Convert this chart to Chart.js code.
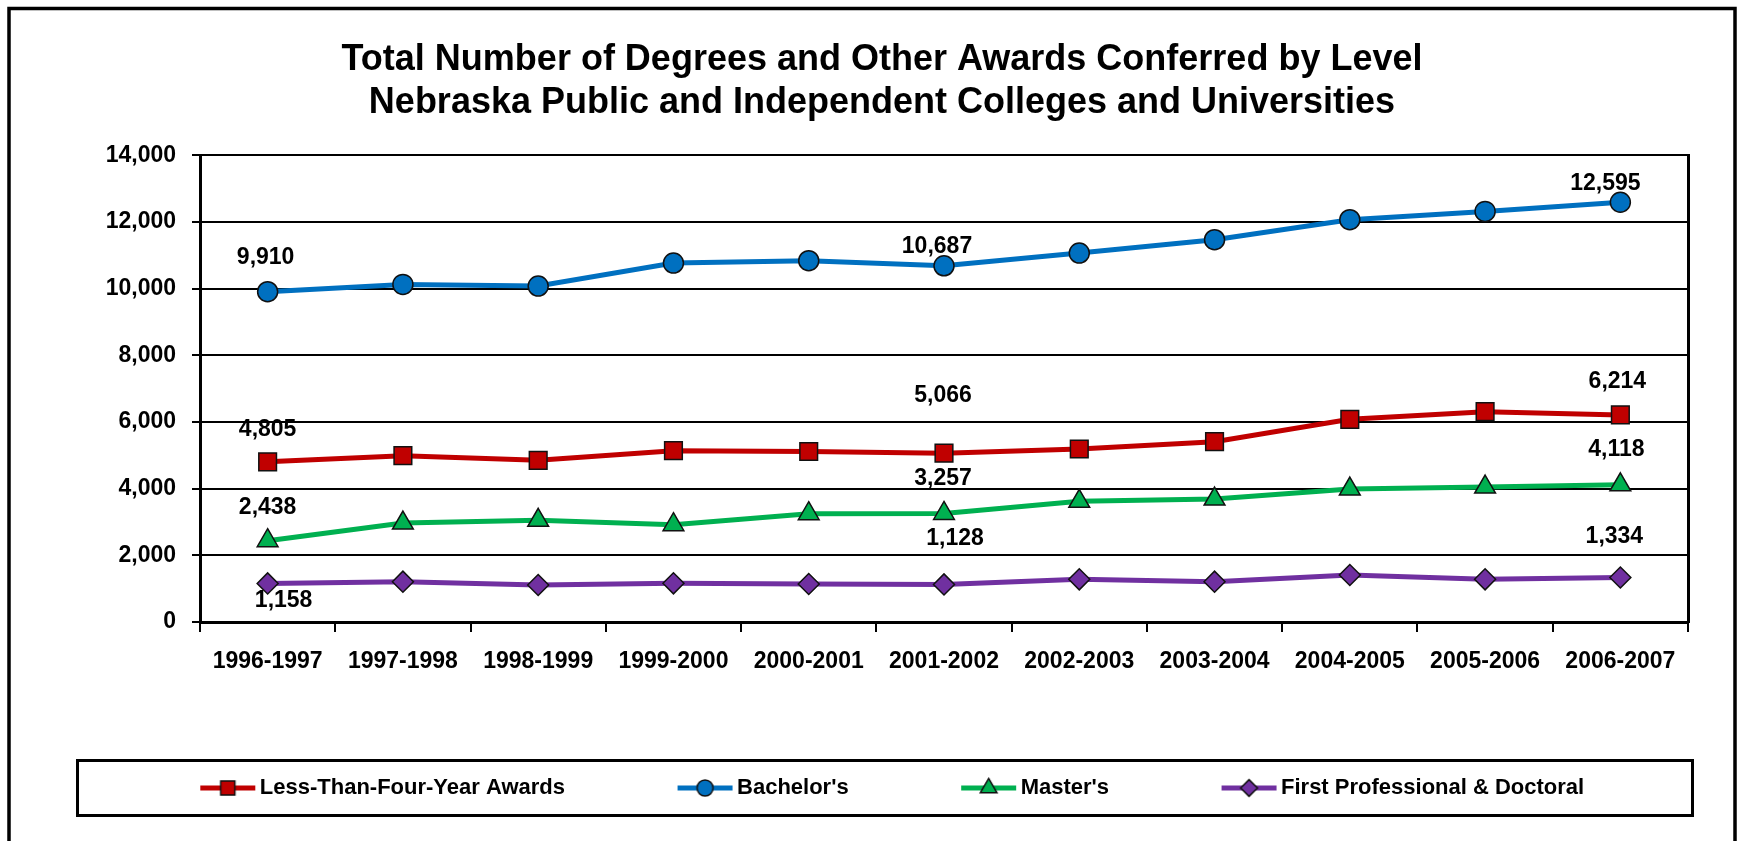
<!DOCTYPE html>
<html>
<head>
<meta charset="utf-8">
<title>Degrees and Other Awards Conferred by Level</title>
<script src="https://cdn.jsdelivr.net/npm/chart.js@4.4.1/dist/chart.umd.min.js"></script>
<style>
  html, body { margin: 0; padding: 0; background: #fff; }
  #wrap { width: 1738px; height: 841px; position: relative; }
</style>
</head>
<body>
<div id="wrap"><canvas id="degreesChart"></canvas></div>
<script>
const years = ["1996-1997", "1997-1998", "1998-1999", "1999-2000", "2000-2001", "2001-2002",
               "2002-2003", "2003-2004", "2004-2005", "2005-2006", "2006-2007"];

const lessThanFour = [4805, 4990, 4850, 5140, 5115, 5066, 5190, 5410, 6080, 6310, 6214];
const bachelors    = [9910, 10130, 10080, 10770, 10840, 10687, 11070, 11470, 12070, 12320, 12595];
const masters      = [2438, 2970, 3050, 2920, 3250, 3257, 3620, 3690, 3990, 4050, 4118];
const firstProf    = [1158, 1210, 1110, 1160, 1140, 1128, 1280, 1210, 1410, 1280, 1334];

const seriesNames = ["Less-Than-Four-Year Awards", "Bachelor's", "Master's", "First Professional & Doctoral"];
const labeledPoints = [0, 5, 10];
const yTicks = [0, 2000, 4000, 6000, 8000, 10000, 12000, 14000];

const FONT = "'Liberation Sans', Arial, Helvetica, sans-serif";
const fmt = v => v.toLocaleString("en-US");

// where each value label sits relative to its point (dx, dy), per series
const labelOffsets = [
  [[0, -32], [-1, -58], [-3, -33]],
  [[-2, -34], [-7, -19], [-15, -19]],
  [[0, -33], [-1, -35], [-4, -35]],
  [[16, 17], [11, -46], [-6, -41]]
];

// legend swatch: line with the marker in the middle, drawn at the right of the canvas
function legendIcon(color, style, radius) {
  const c = document.createElement("canvas");
  c.width = 96; c.height = 26;
  const ctx = c.getContext("2d");
  ctx.strokeStyle = color;
  ctx.lineWidth = 5;
  ctx.beginPath();
  ctx.moveTo(34, 13); ctx.lineTo(89, 13);
  ctx.stroke();
  ctx.fillStyle = color;
  ctx.strokeStyle = "#111";
  ctx.lineWidth = 1.5;
  Chart.helpers.drawPoint(ctx, {pointStyle: style, radius: radius, borderWidth: 1.5, rotation: 0}, 61.5, 13);
  return c;
}

const series = [
  {data: lessThanFour, color: "#C00000", style: "rect", radius: 12.5},
  {data: bachelors, color: "#0070C0", style: "circle", radius: 10},
  {data: masters, color: "#00B050", style: "triangle", radius: 12},
  {data: firstProf, color: "#7030A0", style: "rectRot", radius: 10.5}
];

const valueLabels = {
  id: "valueLabels",
  afterDatasetsDraw(chart) {
    const ctx = chart.ctx;
    ctx.save();
    ctx.font = "bold 23px " + FONT;
    ctx.fillStyle = "#000";
    ctx.textAlign = "center";
    ctx.textBaseline = "middle";
    chart.data.datasets.forEach((ds, i) => {
      const meta = chart.getDatasetMeta(i);
      labeledPoints.forEach((idx, k) => {
        const pt = meta.data[idx];
        const off = labelOffsets[i][k];
        ctx.fillText(fmt(ds.data[idx]), pt.x + off[0], pt.y + off[1]);
      });
    });
    ctx.restore();
  }
};

const frames = {
  id: "frames",
  afterDraw(chart) {
    const ctx = chart.ctx;
    ctx.save();
    ctx.strokeStyle = "#000";
    ctx.lineWidth = 3.5;
    ctx.strokeRect(9, 8.5, 1726, 900);
    ctx.lineWidth = 3;
    ctx.strokeRect(77.5, 760.5, 1615, 55);
    ctx.restore();
  }
};

document.addEventListener("DOMContentLoaded", () => {
  const ctx = document.getElementById("degreesChart").getContext("2d");
  const icons = series.map(s => legendIcon(s.color, s.style, s.radius * 0.8));

  new Chart(ctx, {
    type: "line",
    data: {
      labels: years,
      datasets: series.map((s, i) => ({
        label: seriesNames[i],
        data: s.data,
        borderColor: s.color,
        backgroundColor: s.color,
        borderWidth: 5,
        tension: 0,
        pointStyle: s.style,
        pointRadius: s.radius,
        pointHoverRadius: s.radius,
        pointBackgroundColor: s.color,
        pointBorderColor: "#111",
        pointBorderWidth: 1.5
      }))
    },
    options: {
      responsive: true,
      maintainAspectRatio: false,
      animation: false,
      layout: { padding: { left: 26, right: 0, top: 0, bottom: 32 } },
      plugins: {
        tooltip: { enabled: false },
        title: {
          display: true,
          text: ["Total Number of Degrees and Other Awards Conferred by Level",
                 "Nebraska Public and Independent Colleges and Universities"],
          color: "#000",
          font: { family: FONT, size: 36, weight: "bold", lineHeight: 1.2 },
          padding: { top: 38, bottom: 31 }
        },
        legend: {
          position: "bottom",
          labels: {
            usePointStyle: true,
            pointStyleWidth: 69,
            padding: 92,
            color: "#000",
            font: { family: FONT, size: 22, weight: "bold" },
            generateLabels: chart => chart.data.datasets.map((ds, i) => ({
              text: ds.label,
              pointStyle: icons[i],
              fillStyle: ds.borderColor,
              strokeStyle: ds.borderColor,
              lineWidth: 0,
              fontColor: "#000",
              hidden: false,
              datasetIndex: i
            }))
          }
        }
      },
      scales: {
        x: {
          offset: true,
          afterFit: scale => { scale.height = 63; },
          grid: { offset: true, drawOnChartArea: false, color: "#000", lineWidth: 2, tickLength: 10 },
          border: { color: "#000", width: 3 },
          ticks: {
            color: "#000", padding: 16, autoSkip: false, maxRotation: 0,
            font: { family: FONT, size: 23, weight: "bold" }
          }
        },
        y: {
          min: 0, max: 14000,
          afterFit: scale => { scale.width = 174; },
          afterBuildTicks: scale => { scale.ticks = yTicks.map(v => ({value: v})); },
          grid: { color: "#000", lineWidth: 2, tickLength: 8 },
          border: { color: "#000", width: 3 },
          ticks: {
            color: "#000", padding: 16,
            font: { family: FONT, size: 23, weight: "bold" },
            callback: v => fmt(v)
          }
        },
        y2: {
          position: "right",
          min: 0, max: 14000,
          afterFit: scale => { scale.width = 50; },
          grid: { drawOnChartArea: false, drawTicks: false },
          border: { color: "#000", width: 3 },
          ticks: { display: false }
        }
      }
    },
    plugins: [valueLabels, frames]
  });
});
</script>
</body>
</html>
